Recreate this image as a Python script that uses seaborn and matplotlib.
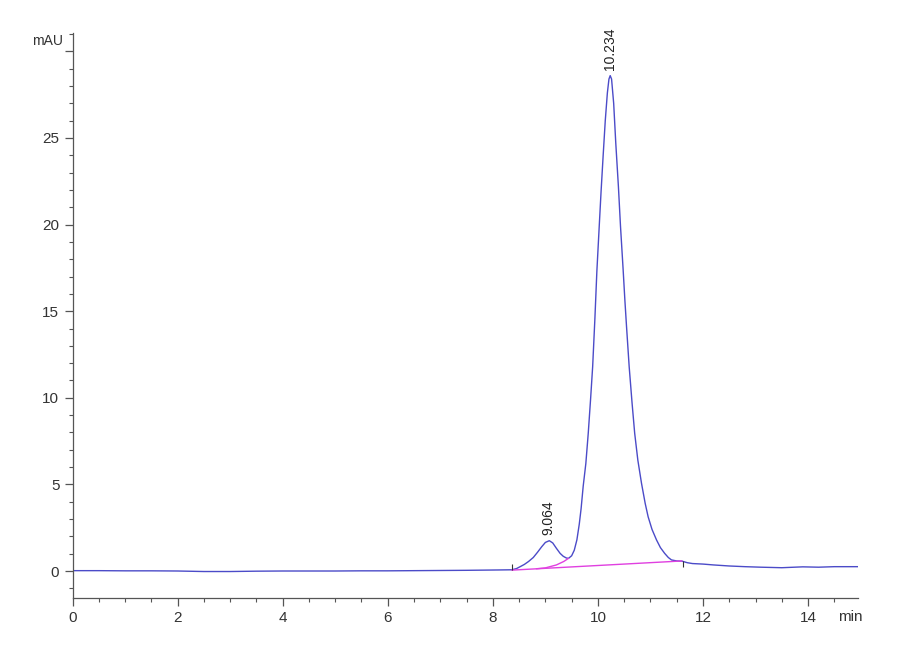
import numpy as np
import pandas as pd
import seaborn as sns
from matplotlib import pyplot as plt
from matplotlib.ticker import MultipleLocator

# trace (min, mAU)
time_min = [0.0, 0.5, 1.0, 1.5, 2.0, 2.5, 3.0, 3.5, 4.0, 4.5, 5.0, 5.5, 6.0, 6.5,
            7.0, 7.5, 7.8, 8.1, 8.36, 8.45, 8.52, 8.60, 8.68, 8.77, 8.85, 8.93,
            9.00, 9.075, 9.14, 9.21, 9.28, 9.34, 9.40, 9.44, 9.50, 9.55, 9.60,
            9.645, 9.68, 9.72, 9.77, 9.816, 9.86, 9.90, 9.943, 9.98, 10.025,
            10.06, 10.10, 10.14, 10.18, 10.21, 10.234, 10.26, 10.30, 10.34,
            10.39, 10.43, 10.48, 10.513, 10.545, 10.595, 10.65, 10.70, 10.76,
            10.83, 10.90, 10.956, 11.03, 11.116, 11.19, 11.27, 11.34, 11.40,
            11.50, 11.60, 11.70, 11.80, 12.0, 12.2, 12.5, 12.8, 13.1, 13.5,
            13.9, 14.2, 14.5, 14.95]
signal_mau = [0.02, 0.02, 0.01, 0.01, 0.0, -0.03, -0.03, -0.01, 0.0, 0.0, 0.0,
              0.01, 0.01, 0.02, 0.03, 0.04, 0.05, 0.06, 0.07, 0.14, 0.25, 0.38,
              0.55, 0.78, 1.08, 1.40, 1.65, 1.75, 1.62, 1.31, 1.02, 0.85, 0.75,
              0.73, 0.88, 1.2, 1.8, 2.7, 3.6, 4.9, 6.2, 7.95, 9.9, 11.8, 14.6,
              17.3, 19.9, 21.9, 24.0, 26.0, 27.6, 28.4, 28.6, 28.4, 27.0, 24.7,
              22.2, 19.9, 17.4, 15.65, 14.1, 11.8, 9.7, 7.95, 6.4, 5.06, 3.9,
              3.13, 2.4, 1.79, 1.35, 1.02, 0.78, 0.64, 0.58, 0.57, 0.48, 0.43,
              0.40, 0.35, 0.29, 0.25, 0.22, 0.19, 0.24, 0.22, 0.25, 0.25]

# integration baseline and skim under the small peak
base_t = [8.36, 11.6]
base_v = [0.05, 0.58]
skim_t = [8.83, 9.0, 9.21, 9.35, 9.44]
skim_v = [0.13, 0.18, 0.35, 0.55, 0.73]

# peak labels
peak_rt = [9.064, 10.234]
peak_h = [1.75, 28.6]
peak_lbl = ['9.064', '10.234']

# integration event marks
event_t = [8.36, 11.62]
event_v = [0.05, 0.56]

df = pd.DataFrame({'t': time_min, 'v': signal_mau})

sns.set_style('white')
plt.rcParams['font.family'] = ['Liberation Sans', 'DejaVu Sans']

fig = plt.figure(figsize=(9, 6.6), dpi=100)
ax = fig.add_axes([0.0806, 0.0939, 0.8727, 0.8561])

sns.lineplot(data=df, x='t', y='v', ax=ax, color='#4b4bc8', lw=1.0)
sns.lineplot(x=base_t, y=base_v, ax=ax, color='#e040e0', lw=1.0)
sns.lineplot(x=skim_t, y=skim_v, ax=ax, color='#e040e0', lw=1.0)

ax.vlines(event_t[0], event_v[0], event_v[0] + 0.35, color='#333333', lw=0.8)
ax.vlines(event_t[1], event_v[1] - 0.35, event_v[1], color='#333333', lw=0.8)

for rt, h, lbl in zip(peak_rt, peak_h, peak_lbl):
    ax.text(rt, h + 0.35, lbl, rotation=90, ha='center', va='bottom',
            fontsize=10, color='#222222')

ax.set_xlim(0, 14.95)
ax.set_ylim(-1.56, 31.06)
ax.xaxis.set_major_locator(MultipleLocator(2))
ax.xaxis.set_minor_locator(MultipleLocator(0.5))
ax.set_yticks([0, 5, 10, 15, 20, 25, 30])
ax.set_yticklabels(['0', '5', '10', '15', '20', '25', ''])
ax.yaxis.set_minor_locator(MultipleLocator(1))
ax.set_xlabel('')
ax.set_ylabel('')

for s in ['top', 'right']:
    ax.spines[s].set_visible(False)
for s in ['left', 'bottom']:
    ax.spines[s].set_color('#555555')
    ax.spines[s].set_linewidth(0.9)

ax.tick_params(which='major', direction='out', length=6, width=0.9,
               color='#555555', labelsize=11, labelcolor='#333333',
               left=True, bottom=True)
ax.tick_params(which='minor', direction='out', length=3, width=0.8,
               color='#555555', left=True, bottom=True)

ax.text(-0.012, 0.985, 'mAU', transform=ax.transAxes, ha='right', va='center',
        fontsize=10, color='#333333')
ax.text(0.974, -0.022, 'min', transform=ax.transAxes, ha='left', va='top',
        fontsize=11, color='#333333')

fig.savefig('out.png', dpi=100)
